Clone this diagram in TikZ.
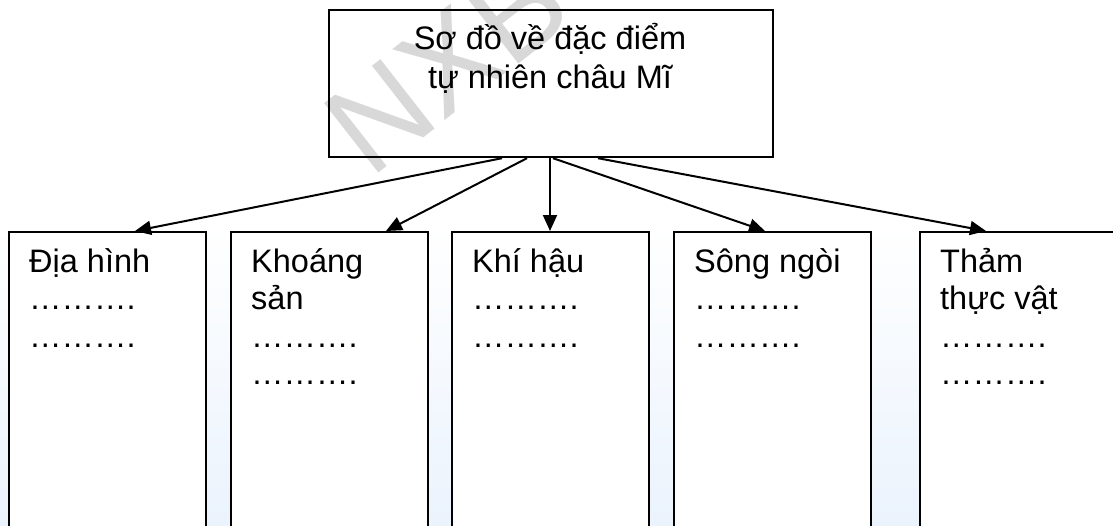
\documentclass[tikz,border=0pt]{standalone}
\usepackage{fontspec}
\setmainfont{Liberation Sans}
\usetikzlibrary{arrows.meta}
\definecolor{bgblue}{RGB}{235,243,253}
\definecolor{wmgray}{RGB}{216,216,216}
\tikzset{
  box/.style={draw=black, line width=1.6pt, fill=white, anchor=north west, inner sep=0pt, minimum width=197pt, minimum height=320pt},
  topbox/.style={draw=black, line width=2.2pt, anchor=north west, inner sep=0pt, minimum width=444pt, minimum height=147pt},
  lbl/.style={anchor=base west, inner sep=0pt, font=\fontsize{32.5}{37.5}\selectfont},
  tlbl/.style={anchor=base, inner sep=0pt, font=\fontsize{32.5}{37.5}\selectfont},
  conn/.style={line width=2pt, -{Triangle[length=16pt,width=14pt]}},
  wm/.style={anchor=base west, inner sep=0pt, text=wmgray, font=\fontsize{128}{130}\selectfont}
}
\begin{document}
\begin{tikzpicture}[x=1pt,y=-1pt]
\clip (0,0) rectangle (1113,525);
\fill[white] (0,0) rectangle (1113,525);
\shade[top color=white, bottom color=bgblue] (0,225) rectangle (1113,525);
% watermark
\node[wm, rotate=38] (wmark) at (370,180) {NXBGD};
% top box
\node[topbox] (top) at (328,9) {};
\node[tlbl] (t1) at (550,49) {Sơ đồ về đặc điểm};
\node[tlbl] (t2) at (550,88) {tự nhiên châu Mĩ};
% bottom boxes
\node[box] (b1) at (8,231) {};
\node[box] (b2) at (230,231) {};
\node[box] (b3) at (451,231) {};
\node[box] (b4) at (673,231) {};
\node[box] (b5) at (919,231) {};
% labels
\node[lbl] (l11) at (29,272) {Địa hình};
\node[lbl] (l12) at (29,309) {……….};
\node[lbl] (l13) at (29,347) {……….};
\node[lbl] (l21) at (251,272) {Khoáng};
\node[lbl] (l22) at (251,309) {sản};
\node[lbl] (l23) at (251,347) {……….};
\node[lbl] (l24) at (251,384) {……….};
\node[lbl] (l31) at (472,272) {Khí hậu};
\node[lbl] (l32) at (472,309) {……….};
\node[lbl] (l33) at (472,347) {……….};
\node[lbl] (l41) at (694,272) {Sông ngòi};
\node[lbl] (l42) at (694,309) {……….};
\node[lbl] (l43) at (694,347) {……….};
\node[lbl] (l51) at (940,272) {Thảm};
\node[lbl] (l52) at (940,309) {thực vật};
\node[lbl] (l53) at (940,347) {……….};
\node[lbl] (l54) at (940,384) {……….};
% connectors
\draw[conn] (502,0 |- top.south) -- (135,0 |- b1.north);
\draw[conn] (527,0 |- top.south) -- (386,0 |- b2.north);
\draw[conn] (550,0 |- top.south) -- (550,0 |- b3.north);
\draw[conn] (553,0 |- top.south) -- (765,0 |- b4.north);
\draw[conn] (598,0 |- top.south) -- (986,0 |- b5.north);
\end{tikzpicture}
\end{document}
